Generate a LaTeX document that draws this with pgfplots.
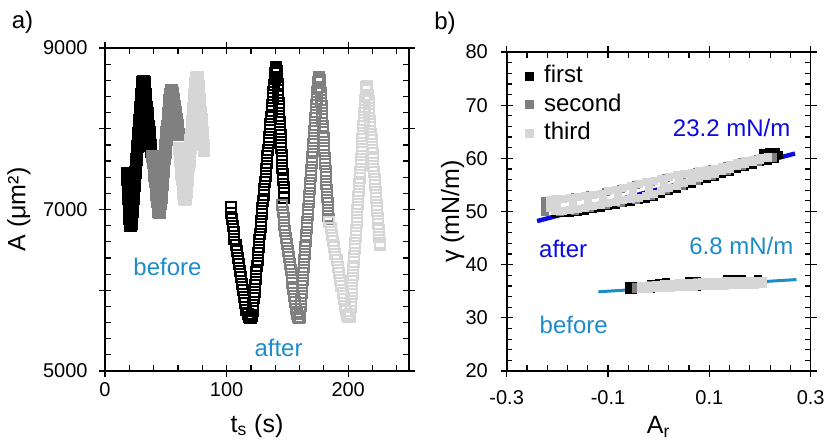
\documentclass[border=0pt]{standalone}
\usepackage{fontspec}
\setmainfont{Liberation Sans}
\usepackage{pgfplots}
\pgfplotsset{compat=1.18}

\definecolor{cfirst}{RGB}{0,0,0}
\definecolor{csecond}{RGB}{128,128,128}
\definecolor{cthird}{RGB}{214,214,214}
\definecolor{fitblue}{RGB}{10,10,225}
\definecolor{skyblue}{RGB}{30,140,200}

\pgfplotsset{
  panel/.style={
    scale only axis,
    anchor=south west,
    axis line style={line width=0.8pt},
    tick style={black, line width=0.6pt},
    tick align=inside,
    major tick length=3pt,
    minor tick length=2.8pt,
    tick label style={font=\fontsize{10}{12}\selectfont},
    label style={font=\fontsize{12.5}{15}\selectfont},
    /pgf/number format/1000 sep={},
    extra tick style={tick align=outside, major tick length=3pt},
    extra x tick labels={}, extra y tick labels={},
  },
  after/.style={only marks, mark=square, mark size=2.5pt, line width=1pt},
  before/.style={only marks, mark=square*, mark size=2.9pt, line width=0.6pt},
  cloud/.style={only marks, mark=square*, mark size=1.75pt, line width=0.4pt},
}

\begin{document}
\begin{tikzpicture}
\useasboundingbox (-52.5pt,-34.5pt) rectangle (360.5pt,185.5pt);

% ---------- a) area vs time ----------
\begin{axis}[panel,
  at={(0pt,0pt)}, width=152pt, height=161.5pt,
  xmin=0, xmax=250, ymin=5000, ymax=9000,
  xtick={0,100,200}, xticklabels={0,100,200},
  minor xtick={20,40,60,80,120,140,160,180,220,240},
  ytick={5000,6000,7000,8000,9000}, yticklabels={5000,,7000,,9000},
  minor ytick={5200,5400,...,8800},
  extra x ticks={0,100,200}, extra y ticks={5000,6000,7000,8000,9000},
  xticklabel style={yshift=-2pt}, yticklabel style={xshift=-5.2pt},
  xlabel={t\textsubscript{s} (s)}, ylabel={A (μm²)},
  xlabel style={at={(axis description cs:0.5,0)}, anchor=base, yshift=-30.5pt},
  ylabel style={at={(axis description cs:-0.283,0.5)}, anchor=center},
]
% before: first, second, third cycle
\addplot[before, color=cfirst] coordinates {
(18.6,7450) (18.8,7370) (19.0,7290) (19.2,7210) (19.5,7130) (19.8,7050) (20.1,6970) (20.4,6890) (20.8,6830) (21.3,6800) (21.8,6820)
(22.2,6900) (22.6,6980) (23.0,7060) (23.5,7140) (23.9,7220) (24.3,7300) (24.7,7380) (25.1,7460) (25.5,7540) (26.0,7620) (26.4,7700)
(26.8,7780) (27.2,7860) (27.6,7940) (28.0,8020) (28.5,8100) (28.9,8180) (29.3,8260) (29.7,8340) (30.1,8420) (30.5,8500) (31.0,8570)
(31.6,8590) (32.2,8580) (32.7,8510) (33.2,8430) (33.7,8350) (34.2,8270) (34.8,8190) (35.3,8110) (35.8,8030) (36.3,7950) (36.8,7870)
(37.3,7790) (37.8,7720)
};
\addplot[before, color=csecond] coordinates {
(39.3,7660) (39.8,7580) (40.4,7500) (40.9,7420) (41.5,7340) (42.0,7260) (42.6,7180) (43.1,7100) (43.6,7030) (44.2,6970) (44.8,6960) (45.3,6990)
(45.8,7070) (46.2,7150) (46.7,7230) (47.2,7310) (47.6,7390) (48.1,7470) (48.6,7550) (49.0,7630) (49.5,7710) (50.0,7790) (50.5,7870)
(50.9,7950) (51.4,8030) (51.9,8110) (52.3,8190) (52.8,8270) (53.3,8350) (53.7,8420) (54.2,8470) (54.8,8475) (55.4,8440)
(56.2,8360) (57.0,8280) (57.8,8200) (58.5,8120) (59.3,8040) (60.1,7980) (60.9,7930)
};
\addplot[before, color=cthird] coordinates {
(61.2,7760) (61.7,7690) (62.2,7610) (62.7,7530) (63.2,7450) (63.8,7370) (64.3,7290) (64.8,7210) (65.3,7140) (65.8,7120) (66.4,7140)
(66.9,7210) (67.3,7290) (67.8,7370) (68.2,7450) (68.7,7530) (69.2,7610) (69.6,7690) (70.1,7770) (70.5,7850) (71.0,7930) (71.5,8010)
(71.9,8090) (72.4,8170) (72.8,8250) (73.3,8330) (73.8,8410) (74.2,8490) (74.7,8560) (75.2,8625) (75.8,8635) (76.4,8590)
(76.9,8520) (77.3,8440) (77.8,8360) (78.2,8280) (78.7,8200) (79.1,8120) (79.6,8040) (80.0,7960) (80.5,7880) (80.9,7800) (81.4,7730)
};
% after: first, second, third cycle
\addplot[after, color=cfirst] coordinates {
(103.6,7030) (103.9,6960) (104.3,6880) (104.9,6800) (105.7,6720) (106.5,6640) (107.4,6560) (108.3,6480) (109.2,6400) (110.1,6320)
(111.0,6240) (111.8,6160) (112.7,6080) (113.6,6000) (114.5,5920) (115.4,5840) (116.3,5760) (117.2,5710) (118.2,5670) (119.2,5660)
(120.3,5655) (121.2,5680) (121.6,5740) (122.0,5820) (122.5,5900) (123.0,5980) (123.5,6060) (124.0,6140) (124.5,6220) (125.0,6300)
(125.5,6380) (126.0,6460) (126.5,6540) (127.0,6620) (127.5,6700) (128.0,6780) (128.5,6860) (129.0,6940) (129.5,7020) (130.0,7100)
(130.5,7180) (131.0,7260) (131.5,7340) (132.0,7420) (132.5,7500) (133.0,7580) (133.5,7660) (134.0,7740) (134.5,7820) (135.0,7900)
(135.5,7980) (136.0,8060) (136.5,8140) (137.0,8220) (137.5,8300) (138.0,8380) (138.5,8460) (139.0,8540) (139.5,8620) (140.0,8690)
(140.5,8740) (141.0,8760) (141.4,8720) (141.7,8640) (142.0,8560) (142.3,8480) (142.6,8400) (142.9,8320) (143.2,8240) (143.5,8160)
(143.8,8080) (144.1,8000) (144.4,7920) (144.7,7840) (145.0,7760) (145.3,7680) (145.6,7600) (145.9,7520) (146.2,7440) (146.5,7360)
(146.8,7280) (147.1,7200) (147.4,7140)
};
\addplot[after, color=csecond] coordinates {
(145.5,7050) (146.2,6970) (146.9,6890) (147.6,6810) (148.4,6730) (149.1,6650) (149.8,6570) (150.5,6490) (151.2,6410) (152.0,6330)
(152.7,6250) (153.4,6170) (154.1,6090) (154.8,6010) (155.5,5930) (156.3,5850) (157.0,5770) (157.7,5710) (158.5,5670) (159.3,5660)
(160.2,5670) (160.6,5730) (161.0,5810) (161.5,5890) (161.9,5970) (162.3,6050) (162.7,6130) (163.1,6210) (163.5,6290) (163.9,6370)
(164.3,6450) (164.8,6530) (165.2,6610) (165.6,6690) (166.0,6770) (166.4,6850) (166.8,6930) (167.2,7010) (167.6,7090) (168.1,7170)
(168.5,7250) (168.9,7330) (169.3,7410) (169.7,7490) (170.1,7570) (170.5,7650) (170.9,7730) (171.4,7810) (171.8,7890) (172.2,7970)
(172.6,8050) (173.0,8130) (173.4,8210) (173.8,8290) (174.2,8370) (174.7,8450) (175.1,8520) (175.5,8580) (175.9,8620) (176.4,8635)
(176.8,8600) (177.1,8520) (177.4,8440) (177.8,8360) (178.1,8280) (178.4,8200) (178.7,8120) (179.1,8040) (179.4,7960) (179.7,7880)
(180.1,7800) (180.4,7720) (180.7,7640) (181.0,7560) (181.4,7480) (181.7,7400) (182.0,7320) (182.4,7240) (182.7,7160) (183.0,7080)
(183.3,7000) (183.7,6920) (184.0,6880)
};
\addplot[after, color=cthird] coordinates {
(184.6,6840) (185.6,6770) (186.6,6690) (187.5,6610) (188.5,6530) (189.5,6450) (190.5,6370) (191.5,6290) (192.4,6210) (193.4,6130)
(194.4,6050) (195.4,5970) (196.4,5890) (197.3,5810) (198.3,5740) (199.2,5690) (200.2,5665) (201.2,5665) (201.7,5710) (202.0,5790)
(202.4,5870) (202.8,5950) (203.2,6030) (203.5,6110) (203.9,6190) (204.3,6270) (204.6,6350) (205.0,6430) (205.4,6510) (205.8,6590)
(206.1,6670) (206.5,6750) (206.9,6830) (207.2,6910) (207.6,6990) (208.0,7070) (208.4,7150) (208.7,7230) (209.1,7310) (209.5,7390)
(209.8,7470) (210.2,7550) (210.6,7630) (211.0,7710) (211.3,7790) (211.7,7870) (212.1,7950) (212.4,8030) (212.8,8110) (213.2,8190)
(213.6,8270) (213.9,8350) (214.3,8420) (214.7,8480) (215.0,8520) (215.4,8535) (215.8,8490) (216.2,8420) (216.7,8340) (217.1,8260)
(217.5,8180) (217.9,8100) (218.3,8020) (218.7,7940) (219.2,7860) (219.6,7780) (220.0,7700) (220.4,7620) (220.8,7540) (221.2,7460)
(221.7,7380) (222.1,7300) (222.5,7220) (222.9,7140) (223.3,7060) (223.7,6980) (224.2,6900) (224.6,6820) (225.0,6740) (225.4,6660)
(225.8,6590) (226.3,6560)
};
\node[text=skyblue, font=\fontsize{12}{14}\selectfont, inner sep=0pt] at (axis cs:51.4,6293) {before};
\node[text=skyblue, font=\fontsize{12}{14}\selectfont, inner sep=0pt] at (axis cs:142.7,5286) {after};
\end{axis}

% ---------- b) tension vs relative area ----------
\begin{axis}[panel,
  at={(200.85pt,0pt)}, width=152pt, height=159.5pt,
  xmin=-0.3, xmax=0.3, ymin=20, ymax=80,
  xtick={-0.3,-0.1,0.1,0.3}, xticklabels={-0.3,-0.1,0.1,0.3},
  minor xtick={-0.26,-0.22,-0.18,-0.14,-0.06,-0.02,0.02,0.06,0.14,0.18,0.22,0.26},
  ytick={20,30,...,80}, yticklabels={20,30,40,50,60,70,80},
  minor ytick={22,24,...,78},
  extra x ticks={-0.3,-0.1,0.1,0.3}, extra y ticks={20,30,...,80},
  xticklabel style={yshift=-6.3pt}, yticklabel style={xshift=-5.9pt},
  xlabel={A\textsubscript{r}}, ylabel={γ (mN/m)},
  xlabel style={at={(axis description cs:0.5,0)}, anchor=base, yshift=-31.3pt},
  ylabel style={at={(axis description cs:-0.178,0.5)}, anchor=center},
  legend style={at={(0.060,0.962)}, anchor=north west, draw=none, fill=none,
    inner sep=0pt, font=\fontsize{12}{14}\selectfont, row sep=2.75pt, column sep=5pt,
    nodes={inner sep=0pt, text height=9pt, text depth=2.5pt}},
  legend cell align=left,
]
% before clouds
\addplot[cloud, color=cfirst, forget plot] coordinates {
(-0.058,35.3) (-0.058,36.0) (-0.05,35.3) (-0.05,36.05)
(-0.045,36.0) (-0.03,36.05) (-0.015,36.45) (0.0,36.6) (0.015,36.7) (0.03,36.4) (0.045,36.45) (0.06,36.9) (0.075,36.95)
(0.09,36.7) (0.105,36.75) (0.12,36.8) (0.135,37.25) (0.15,37.3) (0.165,37.3) (0.18,36.95) (0.195,37.3)
(0.195,36.3) (0.165,36.25) (0.135,36.15) (0.105,36.0) (0.075,35.9) (0.045,35.75) (0.015,35.65) (-0.015,35.5) (-0.03,35.45)
};
\addplot[cloud, color=csecond, forget plot] coordinates {
(-0.045,35.4) (-0.015,35.55) (0.015,35.68) (0.045,35.8) (0.075,35.92) (0.105,36.04) (0.135,36.15) (0.165,36.25) (0.195,36.32)
(0.195,37.0) (0.165,37.0) (0.135,36.93) (0.105,36.77) (0.075,36.67) (0.045,36.52) (0.015,36.4) (-0.015,36.2) (-0.045,35.9)
};
\addplot[cloud, color=cthird, forget plot] coordinates {
(-0.035,35.4) (-0.02,35.48) (-0.005,35.56) (0.01,35.62) (0.025,35.68) (0.04,35.74) (0.055,35.8) (0.07,35.86) (0.085,35.92)
(0.1,35.98) (0.115,36.04) (0.13,36.1) (0.145,36.16) (0.16,36.21) (0.175,36.24) (0.19,36.28) (0.205,36.32)
(0.205,37.0) (0.19,37.0) (0.175,37.0) (0.16,37.0) (0.145,36.97) (0.13,36.9) (0.115,36.83) (0.1,36.75) (0.085,36.69)
(0.07,36.63) (0.055,36.57) (0.04,36.5) (0.025,36.42) (0.01,36.35) (-0.005,36.25) (-0.02,36.1) (-0.035,35.95)
};
% after clouds
\addplot[cloud, color=cfirst, legend image code/.code={\fill[cfirst] (0pt,-2pt) rectangle (4pt,2pt);}] coordinates {
(-0.205,49.6) (-0.19,49.65) (-0.175,49.7) (-0.16,49.9) (-0.145,50.15) (-0.13,50.45) (-0.115,50.7) (-0.10,51.0) (-0.085,51.3)
(-0.07,51.55) (-0.055,51.85) (-0.04,52.1) (-0.025,52.4) (-0.01,52.8) (0.005,53.3) (0.02,53.8) (0.035,54.3) (0.05,54.8)
(0.065,55.25) (0.08,55.7) (0.095,56.15) (0.11,56.6) (0.125,57.05) (0.14,57.5) (0.155,57.95) (0.17,58.4) (0.185,58.85)
(0.20,59.25) (0.215,59.6) (0.23,59.9) (0.237,60.6) (0.232,61.2) (0.218,61.3) (0.205,61.1)
(0.185,59.35) (0.155,58.45) (0.125,57.55) (0.095,56.65) (0.065,55.75) (0.035,54.8) (0.005,53.8) (-0.025,52.9)
(-0.055,52.35) (-0.085,51.8) (-0.115,51.2) (-0.145,50.65) (-0.175,50.2) (-0.205,50.1)
};
\addlegendentry{first}
\addplot[cloud, color=csecond, legend image code/.code={\fill[csecond] (0pt,-2pt) rectangle (4pt,2pt);}] coordinates {
(-0.225,49.85) (-0.195,49.9) (-0.165,50.1) (-0.135,50.6) (-0.105,51.15) (-0.075,51.7) (-0.045,52.25) (-0.015,52.9)
(0.015,54.0) (0.045,54.9) (0.075,55.8) (0.105,56.7) (0.135,57.6) (0.165,58.5) (0.195,59.35) (0.225,60.0)
(0.225,60.25) (0.195,59.95) (0.165,59.3) (0.135,58.6) (0.105,57.95) (0.075,57.45) (0.045,56.9) (0.015,56.3)
(-0.015,55.65) (-0.045,54.95) (-0.075,54.3) (-0.105,53.65) (-0.135,53.1) (-0.165,52.7) (-0.195,52.35) (-0.225,52.0) (-0.225,51.0)
};
\addlegendentry{second}
\addplot[cloud, color=cthird, legend image code/.code={\fill[cthird] (0pt,-2pt) rectangle (4pt,2pt);}] coordinates {
(-0.205,50.15) (-0.19,50.2) (-0.175,50.25) (-0.16,50.45) (-0.145,50.7) (-0.13,51.0) (-0.115,51.25) (-0.10,51.55) (-0.085,51.85)
(-0.07,52.1) (-0.055,52.4) (-0.04,52.65) (-0.025,52.95) (-0.01,53.35) (0.005,53.85) (0.02,54.35) (0.035,54.85) (0.05,55.35)
(0.065,55.8) (0.08,56.25) (0.095,56.7) (0.11,57.15) (0.125,57.6) (0.14,58.05) (0.155,58.5) (0.17,58.95) (0.185,59.4)
(0.20,59.8) (0.215,60.15)
(0.215,60.2) (0.20,60.1) (0.185,59.75) (0.17,59.45) (0.155,59.1) (0.14,58.75) (0.125,58.4) (0.11,58.1) (0.095,57.85)
(0.08,57.6) (0.065,57.3) (0.05,57.05) (0.035,56.8) (0.02,56.5) (0.005,56.15) (-0.01,55.8) (-0.025,55.5) (-0.04,55.15)
(-0.055,54.8) (-0.07,54.5) (-0.085,54.15) (-0.10,53.8) (-0.115,53.4) (-0.13,53.2) (-0.145,53.0) (-0.16,52.8) (-0.175,52.65)
(-0.19,52.45) (-0.205,52.3) (-0.215,52.1) (-0.215,51.3) (-0.215,50.6)
(-0.20,51.3) (-0.17,51.5) (-0.14,51.9) (-0.11,52.4) (-0.08,53.0) (-0.05,53.6) (-0.02,54.2) (0.01,54.95) (0.04,55.8)
};
\addlegendentry{third}
% linear fits
\addplot[fitblue, line width=2.2pt, forget plot] coordinates {(-0.24,48.2) (0.269,60.9)};
\addplot[skyblue, line width=1.5pt, forget plot] coordinates {(-0.119,34.9) (0.272,37.2)};
\node[text=fitblue, font=\fontsize{12}{14}\selectfont, inner sep=0pt] at (axis cs:0.144,65.7) {23.2 mN/m};
\node[text=skyblue, font=\fontsize{12}{14}\selectfont, inner sep=0pt] at (axis cs:0.163,43.6) {6.8 mN/m};
\node[text=fitblue, font=\fontsize{12}{14}\selectfont, inner sep=0pt] at (axis cs:-0.1885,43.0) {after};
\node[text=skyblue, font=\fontsize{12}{14}\selectfont, inner sep=0pt] at (axis cs:-0.1677,28.6) {before};
\end{axis}

\node[font=\fontsize{12}{14}\selectfont, inner sep=0pt] at (-41.25pt,174.5pt) {a)};
\node[font=\fontsize{12}{14}\selectfont, inner sep=0pt] at (170pt,174pt) {b)};
\end{tikzpicture}
\end{document}
